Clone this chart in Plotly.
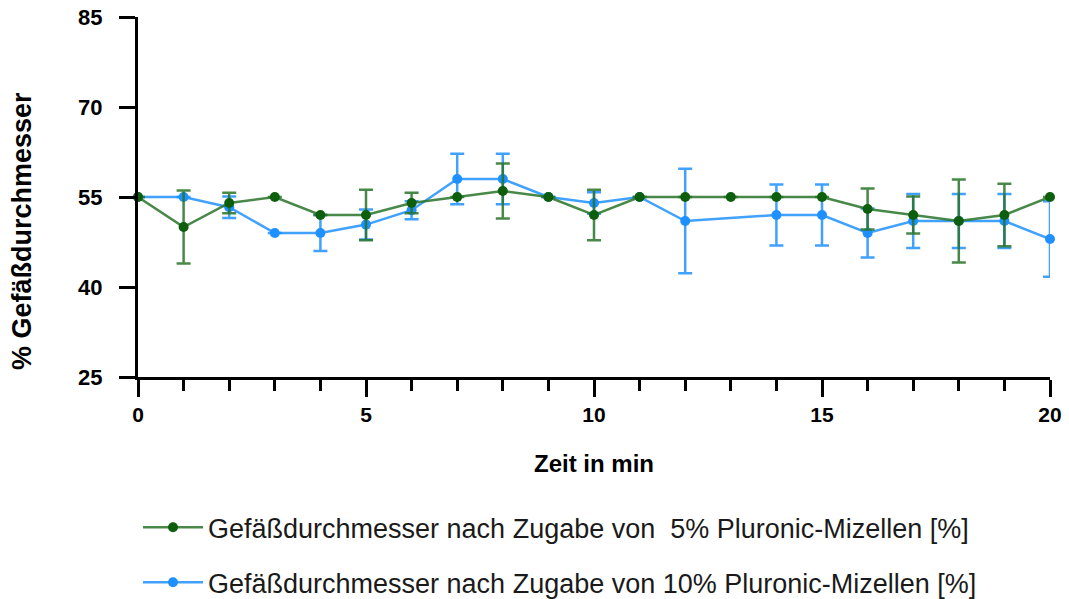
import plotly.graph_objects as go

time_min = list(range(0, 21))

green_vals = [55, 50, 54, 55, 52, 52, 54, 55, 56, 55, 52, 55, 55, 55, 55, 55, 53, 52, 51, 52, 55]
green_err = [0, 6.1, 1.7, 0, 0, 4.2, 1.7, 0, 4.6, 0, 4.2, 0, 0, 0, 0, 0, 3.4, 3.1, 6.9, 5.2, 0]

blue_time = [0, 1, 2, 3, 4, 5, 6, 7, 8, 9, 10, 11, 12, 14, 15, 16, 17, 18, 19, 20]
blue_vals = [55, 55, 53.3, 49, 49, 50.4, 52.8, 58, 58, 55, 54, 55, 51, 52, 52, 49, 51, 51, 51, 48]
blue_err = [0, 0, 1.8, 0, 3, 2.5, 1.5, 4.2, 4.2, 0, 1.8, 0, 8.7, 5.1, 5.1, 4.1, 4.5, 4.5, 4.5, 6.3]

legend_names = [
    "Gefäßdurchmesser nach Zugabe von  5% Pluronic-Mizellen [%]",
    "Gefäßdurchmesser nach Zugabe von 10% Pluronic-Mizellen [%]",
]

y_ticks = [25, 40, 55, 70, 85]
x_ticks = [0, 5, 10, 15, 20]
x_title = "Zeit in min"
y_title = "% Gefäßdurchmesser"

FONT = "Liberation Sans, Arial, sans-serif"
green_line = "rgba(40,115,40,0.85)"
green_marker = "#0d5e0d"
blue_line = "rgba(30,144,255,0.85)"
blue_marker = "#1e90ff"

fig = go.Figure()
fig.add_trace(go.Scatter(
    x=blue_time, y=blue_vals, name=legend_names[1], mode="lines+markers",
    line=dict(color=blue_line, width=2.5),
    marker=dict(color=blue_marker, size=10),
    error_y=dict(type="data", array=blue_err, visible=True, color=blue_line, thickness=2.5, width=7),
    cliponaxis=False, legendgroup="g2", legendrank=2,
))
fig.add_trace(go.Scatter(
    x=time_min, y=green_vals, name=legend_names[0], mode="lines+markers",
    line=dict(color=green_line, width=2.5),
    marker=dict(color=green_marker, size=10),
    error_y=dict(type="data", array=green_err, visible=True, color=green_line, thickness=2.5, width=7),
    cliponaxis=False, legendgroup="g1", legendrank=1,
))

fig.update_layout(
    width=1069, height=599,
    margin=dict(l=138, r=19, t=17, b=222),
    paper_bgcolor="white", plot_bgcolor="white",
    font=dict(family=FONT, color="black"),
    showlegend=True,
    legend=dict(
        xref="paper", yref="container",
        x=0.0, y=0.160, xanchor="left", yanchor="top",
        font=dict(size=27, color="#1a1a1a"),
        traceorder="grouped", tracegroupgap=17,
        itemwidth=60,
    ),
    annotations=[dict(
        text="<b>" + y_title + "</b>", textangle=-90,
        xref="paper", yref="paper", x=(22 - 138) / 912, y=(377 - 231) / 360,
        xanchor="center", yanchor="middle", showarrow=False,
        font=dict(size=27, family=FONT, color="black"),
    )],
)
fig.update_xaxes(
    range=[0, 20], tickvals=x_ticks, showgrid=False, zeroline=False, automargin=False,
    showline=True, linecolor="black", linewidth=3,
    ticks="outside", ticklen=17, tickwidth=3, tickcolor="black",
    tickfont=dict(size=21, family=FONT, weight="bold"),
    minor=dict(dtick=1, ticks="outside", ticklen=11, tickwidth=3, tickcolor="black", showgrid=False),
    title=dict(text="<b>" + x_title + "</b>", font=dict(size=24), standoff=30),
)
fig.update_yaxes(
    range=[25, 85], tickvals=y_ticks, showgrid=False, zeroline=False, automargin=False,
    showline=True, linecolor="black", linewidth=3,
    ticks="outside", ticklen=16, tickwidth=3, tickcolor="black", ticklabelstandoff=12,
    tickfont=dict(size=22, family=FONT, weight="bold"),
)

fig.write_html("out.html")
